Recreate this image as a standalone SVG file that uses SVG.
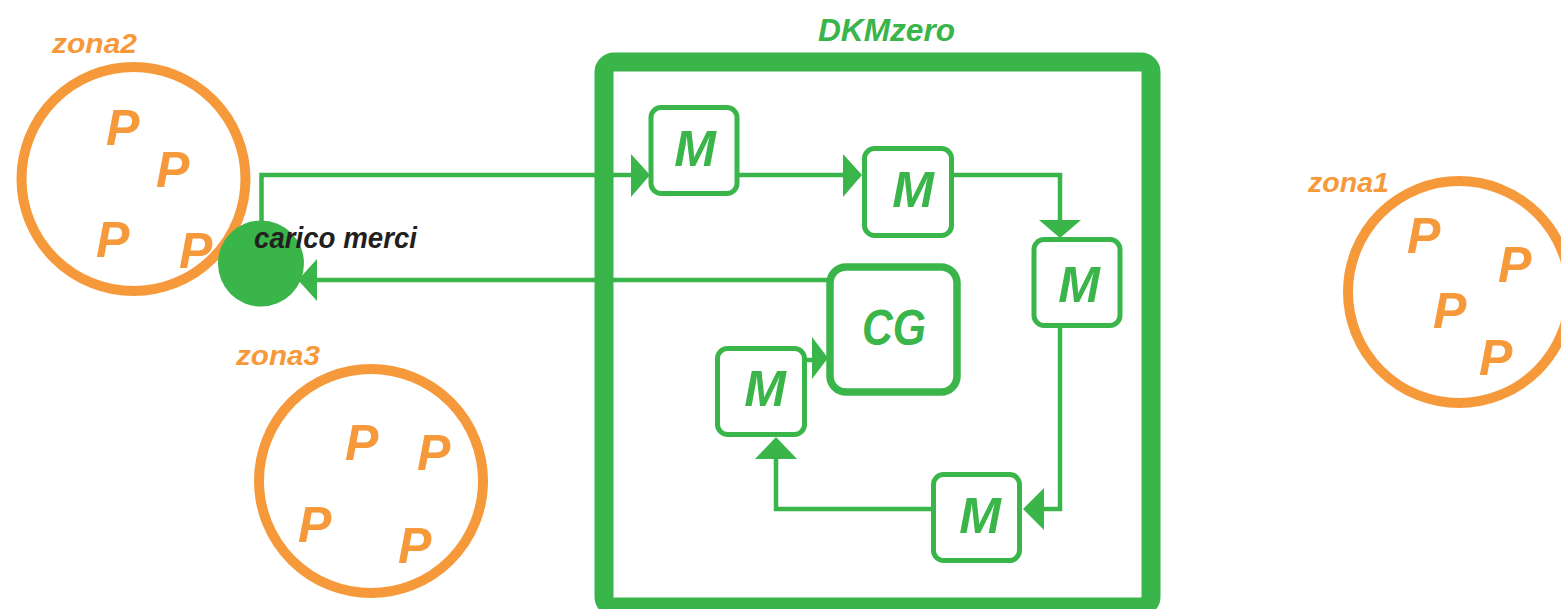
<svg xmlns="http://www.w3.org/2000/svg" width="1561" height="609" viewBox="0 0 1561 609">
<style>
.zone{fill:none;stroke:#f6993b;stroke-width:10}
.zl{font-family:"Liberation Sans",Arial,sans-serif;font-weight:bold;font-style:italic;fill:#f6993b;font-size:27px}
.p{font-family:"Liberation Sans",Arial,sans-serif;font-weight:bold;font-style:italic;fill:#f6993b;font-size:50px}
.box{fill:#fff;stroke:#39b54a;stroke-width:5}
.cg{fill:#fff;stroke:#39b54a;stroke-width:7.5}
.mt{font-family:"Liberation Sans",Arial,sans-serif;font-weight:bold;font-style:italic;fill:#39b54a;font-size:50px;text-anchor:middle}
.ln{fill:none;stroke:#39b54a;stroke-width:4.5}
.ah{fill:#39b54a}
</style>
<rect width="1561" height="609" fill="#fff"/>
<g id="zona2">
<circle class="zone" cx="133.5" cy="179" r="112"/>
<text class="zl" x="52" y="53" textLength="85" lengthAdjust="spacingAndGlyphs">zona2</text>
<text class="p" x="106" y="145">P</text>
<text class="p" x="156" y="187">P</text>
<text class="p" x="96" y="257">P</text>
<text class="p" x="179" y="268">P</text>
</g>
<g id="zona3">
<circle class="zone" cx="371" cy="481" r="112"/>
<text class="zl" x="236" y="365" textLength="84" lengthAdjust="spacingAndGlyphs">zona3</text>
<text class="p" x="345" y="460">P</text>
<text class="p" x="417" y="470">P</text>
<text class="p" x="298" y="542">P</text>
<text class="p" x="398" y="563">P</text>
</g>
<g id="zona1">
<circle class="zone" cx="1459" cy="292" r="111"/>
<text class="zl" x="1308" y="192" textLength="81" lengthAdjust="spacingAndGlyphs">zona1</text>
<text class="p" x="1407" y="253">P</text>
<text class="p" x="1498" y="282">P</text>
<text class="p" x="1433" y="328">P</text>
<text class="p" x="1479" y="375">P</text>
</g>
<g id="DKMzero">
<rect x="604" y="62" width="547" height="545" rx="10" fill="none" stroke="#39b54a" stroke-width="19"/>
<text x="818" y="41" font-family="Liberation Sans, Arial, sans-serif" font-weight="bold" font-style="italic" font-size="32" fill="#39b54a" textLength="137" lengthAdjust="spacingAndGlyphs">DKMzero</text>
</g>
<g id="connectors">
<path class="ln" d="M261.5 225 V175 H633"/>
<polygon class="ah" points="631,154 650,175 631,197"/>
<path class="ln" d="M739 175 H845"/>
<polygon class="ah" points="843,154 862,175 843,197"/>
<path class="ln" d="M954 175 H1060 V222"/>
<polygon class="ah" points="1039,220 1060,238 1081,220"/>
<path class="ln" d="M1060 327 V509 H1042"/>
<polygon class="ah" points="1044,488 1023,509 1044,530"/>
<path class="ln" d="M931 509 H776 V457"/>
<polygon class="ah" points="755,459 776,437 797,459"/>
<path class="ln" d="M805 360 H814"/>
<polygon class="ah" points="812,337 828,358 812,379"/>
<path class="ln" d="M828 280 H315"/>
<polygon class="ah" points="317,259 298,280 317,301"/>
</g>
<g id="m1"><rect class="box" x="651" y="107.5" width="86" height="86" rx="10"/><text class="mt" x="695" y="166">M</text></g>
<g id="m2"><rect class="box" x="864.5" y="148.5" width="87" height="87" rx="10"/><text class="mt" x="913" y="207">M</text></g>
<g id="m3"><rect class="box" x="1034" y="239.5" width="86" height="86" rx="10"/><text class="mt" x="1079" y="302">M</text></g>
<g id="m4"><rect class="box" x="717.5" y="348.5" width="87" height="86" rx="10"/><text class="mt" x="765" y="406">M</text></g>
<g id="m5"><rect class="box" x="933.5" y="474.5" width="86" height="86" rx="10"/><text class="mt" x="980" y="533">M</text></g>
<g id="cg"><rect class="cg" x="830" y="267" width="127" height="125" rx="16"/><text class="mt" x="894" y="345" textLength="64" lengthAdjust="spacingAndGlyphs">CG</text></g>
<g id="carico">
<circle cx="261" cy="263.5" r="43" fill="#39b54a"/>
<text x="254" y="248" font-family="Liberation Sans, Arial, sans-serif" font-weight="bold" font-style="italic" font-size="29" fill="#231f20" textLength="163" lengthAdjust="spacingAndGlyphs">carico merci</text>
</g>
</svg>
